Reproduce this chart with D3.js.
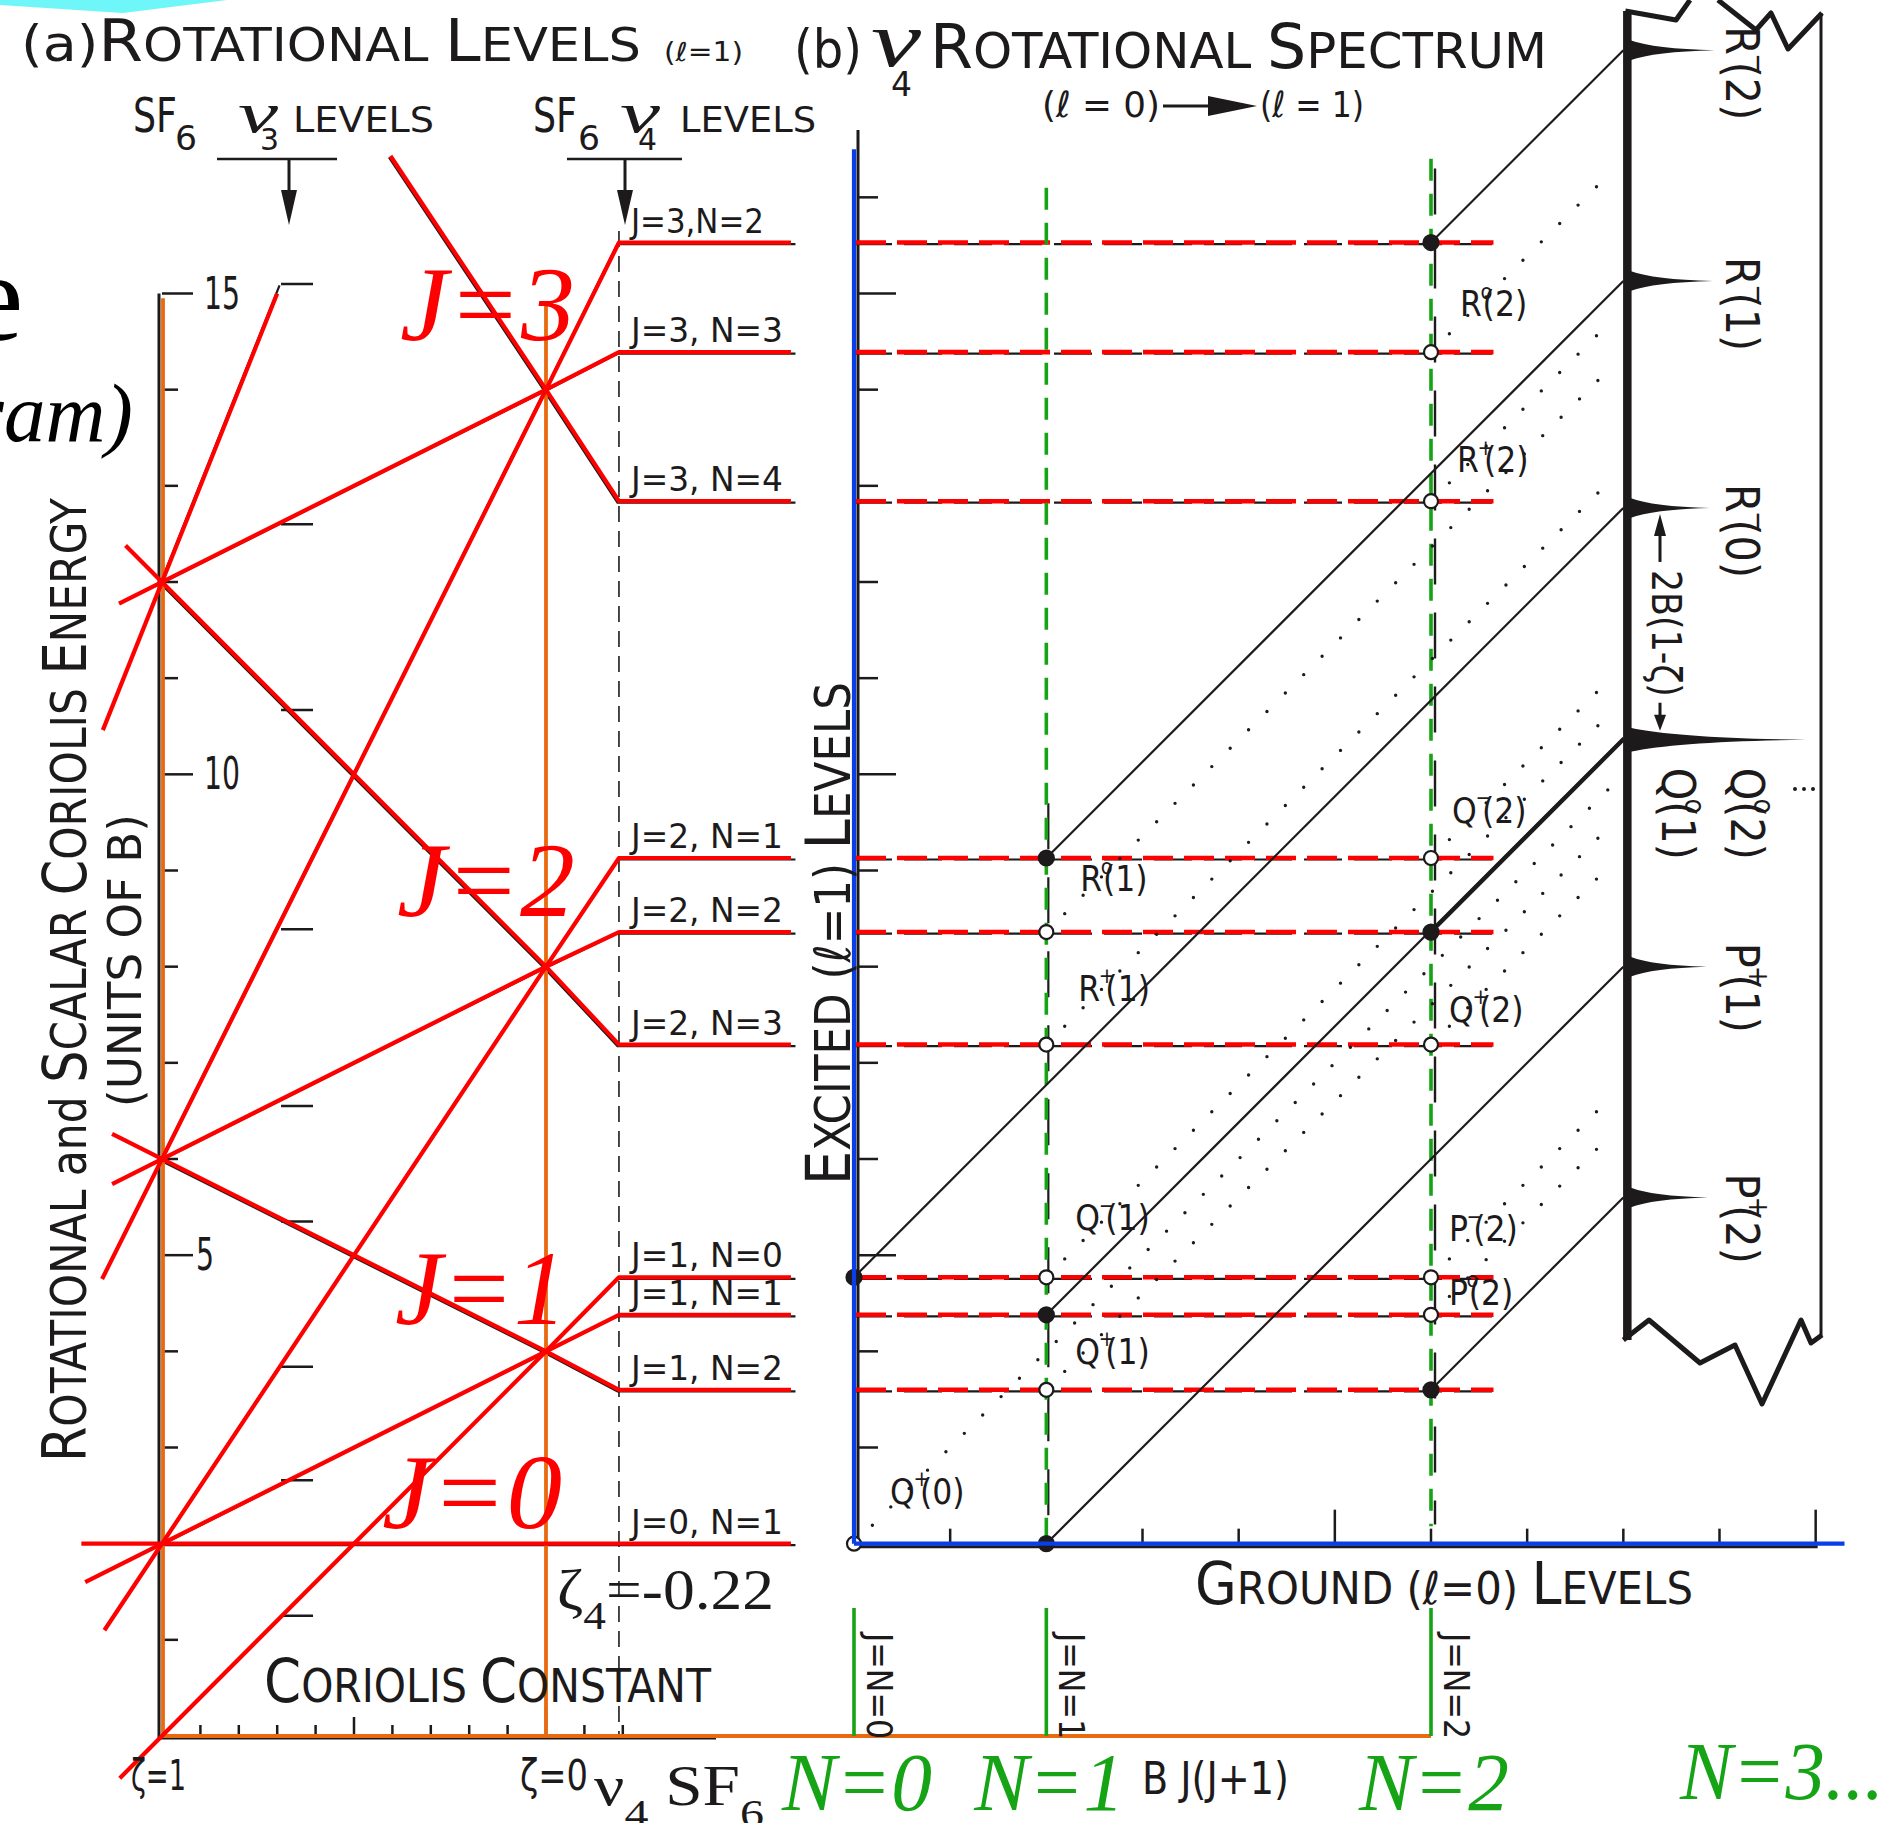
<!DOCTYPE html>
<html>
<head>
<meta charset="utf-8">
<title>SF6 v4 rotational levels and spectrum</title>
<script src="https://cdn.jsdelivr.net/npm/d3@7/dist/d3.min.js"></script>
<style>
  html, body { margin: 0; padding: 0; background: #fff; }
  svg { display: block; }
</style>
</head>
<body>
<div id="chart"></div>
<script>
// excited (l=1) levels, energies in units of B
const levelLabel = ["J=0, N=1", "J=1, N=0", "J=1, N=1", "J=1, N=2", "J=2, N=1",
                    "J=2, N=2", "J=2, N=3", "J=3,N=2", "J=3, N=3", "J=3, N=4"];
const levelE1 = [2, 0, 2, 6, 2, 6, 12, 6, 12, 20];      // at zeta = 1
const levelE0 = [2, 4, 4, 4, 8, 8, 8, 14, 14, 14];      // at zeta = 0
const levelE4 = [2, 4.77, 4.38, 3.6, 9.13, 8.36, 7.19, 15.53, 14.39, 12.84]; // at zeta4
const redFromZeta = [1.21, 1.11, 1.2, 1.13, 1.15, 1.13, 1.095, 1.156, 1.112, 0.405];

// J=4, N=3 only drawn up to the nu3 column
const partialE1 = 12, partialE0 = 22, partialFrom = 1.154;

const zeta3 = 0.69;
const zeta4 = -0.19;           // where the zeta4 line sits on the drawing
const zeta4Text = "=-0.22";
const nu3Levels = [1.25, 2.0, 2.66, 3.84, 5.35, 6.55, 8.39, 10.67, 12.6, 15.1];

const energyTicks = d3.range(1, 16);
const energyLabels = [5, 10, 15];
const zetaTicks = [0.9, 0.8, 0.7, 0.6, 0.5, 0.4, 0.3, 0.2, 0.1, 0, -0.1, -0.2];

// ground (l=0) levels B J(J+1)
const groundE = [0, 2, 6];
const groundLabel = ["J=N=0", "J=N=1", "J=N=2"];
const groundN = ["N=0", "N=1", "N=2"];
const groundTicks = d3.range(1, 11);
const excitedTicks = d3.range(3, 17);

// transitions: ground J -> excited level index
const trBranch = ["R", "R", "R", "Q", "Q", "P", "P", "Q", "R", "R", "Q", "Q", "R", "R", "Q", "Q", "P", "P"];
const trSign   = ["\u2212", "\u2212", "\u2212", "o", "o", "+", "+", "+", "o", "+", "\u2212", "+", "o", "+", "\u2212", "+", "\u2212", "o"];
const trGround = [0, 1, 2, 1, 2, 1, 2, 0, 1, 1, 1, 1, 2, 2, 2, 2, 2, 2];
const trLevel  = [1, 4, 7, 2, 5, 0, 3, 0, 5, 6, 1, 3, 8, 9, 4, 6, 1, 2];
const trKind   = [1, 1, 1, 1, 2, 1, 1, 0, 0, 0, 0, 0, 0, 0, 0, 0, 0, 0]; // 0 dotted, 1 solid, 2 heavy

// spectrum
const specAt = 8;
const peakTr = [2, 1, 0, 4, 5, 6];
const peakHeight = [0.95, 0.93, 0.9, 1.9, 0.87, 0.88];

// ---------------------------------------------------------------------------
const W = 1904, H = 1823;
const SANS = "'Liberation Sans Narrow', 'DejaVu Sans Condensed', 'Liberation Sans', Arial, sans-serif";
const SERIF = "'Liberation Serif', 'Times New Roman', serif";
const INK = "#1d1a1b", RED = "#ff0000", ORANGE = "#e8690e", GREEN = "#16a416", BLUE = "#0a3ee6";

const svg = d3.select("#chart").append("svg").attr("width", W).attr("height", H);
svg.append("rect").attr("width", W).attr("height", H).attr("fill", "#fff");

const unit = (1736 - 293.5) / 15;
const yE = d3.scaleLinear().domain([0, 15]).range([1736, 293.5]);
const xZ = d3.scaleLinear().domain([1, 0]).range([162, 546]);
const xG = d3.scaleLinear().domain([0, 10]).range([854, 854 + unit * 10]);

function txt(g, o) {
  const t = g.append("text")
    .attr("x", o.x).attr("y", o.y)
    .attr("font-family", o.family || SANS)
    .attr("font-size", o.size || 36)
    .attr("fill", o.fill || INK)
    .attr("text-anchor", o.anchor || "start");
  if (o.italic) t.attr("font-style", "italic");
  if (o.rotate) t.attr("transform", `rotate(${o.rotate},${o.x},${o.y})`);
  (o.parts || [[o.text]]).forEach(([s, size, dy, dx, fam, ital]) => {
    const sp = t.append("tspan").text(s);
    if (size) sp.attr("font-size", size);
    if (dy) sp.attr("dy", dy);
    if (dx) sp.attr("dx", dx);
    if (fam) sp.attr("font-family", fam);
    if (ital) sp.attr("font-style", "italic");
  });
  if (o.len) t.attr("textLength", o.len).attr("lengthAdjust", "spacingAndGlyphs");
  return t;
}

// small-caps lettering like the original
function caps(str, big, small) {
  const out = [];
  const words = str.split(" ");
  words.forEach((w, i) => {
    const sp = i < words.length - 1 ? "\u00a0" : "";
    if (/^[A-Z]/.test(w)) {
      if (w.length > 1) { out.push([w[0], big]); out.push([w.slice(1).toUpperCase() + sp, small]); }
      else out.push([w + sp, big]);
    } else out.push([w + sp, small]);
  });
  return out;
}

const line = d3.line();

// ============================ (a) rotational levels ============================
const left = svg.append("g");

left.append("path").attr("d", "M0,0 L227,0 L123,13 L0,5 Z").attr("fill", "#6ef6f8");

txt(left, { x: -33, y: 340, text: "e", size: 127, family: SERIF, fill: "#000" });
txt(left, { x: 133, y: 441, text: "ram)", size: 83, family: SERIF, italic: true, anchor: "end", fill: "#000" });

txt(left, { x: 21, y: 61, len: 620,
  parts: [["(a)", 50]].concat(caps("Rotational Levels", 58, 46)) });
txt(left, { x: 664, y: 61, text: "(\u2113=1)", size: 26, len: 79 });

// SF6 nu3 / nu4 headers
[[133, 175, 238, 260, 293, "3", 141, 217, 337, 289],
 [533, 578, 620, 638, 680, "4", 136, 567, 682, 625]].forEach(h => {
  txt(left, { x: h[0], y: 132, text: "SF", size: 48, len: 44 });
  txt(left, { x: h[1], y: 150, text: "6", size: 33, len: 22 });
  txt(left, { x: h[2], y: 132, text: "\u03bd", size: 58, family: SERIF, italic: true, len: 40 });
  txt(left, { x: h[3], y: 150, text: h[5], size: 30, len: 19 });
  txt(left, { x: h[4], y: 132, text: "LEVELS", size: 35, len: h[6] });
  left.append("line").attr("x1", h[7]).attr("x2", h[8]).attr("y1", 159).attr("y2", 159)
    .attr("stroke", INK).attr("stroke-width", 2.5);
  left.append("line").attr("x1", h[9]).attr("x2", h[9]).attr("y1", 159).attr("y2", 200)
    .attr("stroke", INK).attr("stroke-width", 3);
  left.append("path").attr("d", `M${h[9] - 8},190 L${h[9] + 8},190 L${h[9]},225 Z`).attr("fill", INK);
});

// axis (printed) and ticks
left.append("line").attr("x1", xZ(1) - 3).attr("x2", xZ(1) - 3).attr("y1", yE(15)).attr("y2", yE(0) + 2)
  .attr("stroke", INK).attr("stroke-width", 3);
left.append("line").attr("x1", xZ(1) - 4).attr("x2", 716).attr("y1", yE(0) + 2).attr("y2", yE(0) + 2)
  .attr("stroke", INK).attr("stroke-width", 3);
left.selectAll(".etick").data(energyTicks).join("line")
  .attr("x1", xZ(1)).attr("x2", d => xZ(1) + (energyLabels.includes(d) ? 31 : 16))
  .attr("y1", d => yE(d)).attr("y2", d => yE(d))
  .attr("stroke", INK).attr("stroke-width", 2.5);
energyLabels.forEach(d => {
  const s = String(d);
  txt(left, { x: xZ(1) + (s.length > 1 ? 42 : 34), y: yE(d) + 15, text: s, size: 44, len: s.length * 18 });
});
left.selectAll(".nu3").data(nu3Levels).join("line")
  .attr("x1", xZ(zeta3)).attr("x2", xZ(zeta3) + 32)
  .attr("y1", d => yE(d)).attr("y2", d => yE(d))
  .attr("stroke", INK).attr("stroke-width", 2.5);
left.selectAll(".ztick").data(zetaTicks).join("line")
  .attr("x1", d => xZ(d)).attr("x2", d => xZ(d))
  .attr("y1", yE(0)).attr("y2", d => yE(0) - (d === 0 ? 30 : Math.abs(d - 0.5) < 1e-9 ? 19 : 11))
  .attr("stroke", INK).attr("stroke-width", 2.5);

// printed black level lines
const lineE = (i, z) => levelE0[i] + (levelE1[i] - levelE0[i]) * z;
const STUB = 176;
function levelPts(i, from, stubEnd) {
  return [[xZ(from), yE(lineE(i, from))], [xZ(0), yE(levelE0[i])],
          [xZ(zeta4), yE(levelE4[i])], [xZ(zeta4) + stubEnd, yE(levelE4[i])]];
}
levelLabel.forEach((_, i) => {
  left.append("path").attr("d", line(levelPts(i, Math.min(1, redFromZeta[i]), STUB + 2)))
    .attr("transform", "translate(-1.5,1.5)")
    .attr("fill", "none").attr("stroke", INK).attr("stroke-width", 2.2);
});
left.append("path").attr("d", line([[xZ(1), yE(partialE1)],
    [xZ(zeta3), yE(partialE0 + (partialE1 - partialE0) * zeta3)]]))
  .attr("transform", "translate(-1.5,1.5)")
  .attr("fill", "none").attr("stroke", INK).attr("stroke-width", 2.2);

// zeta4 dashed line
left.append("line").attr("x1", xZ(zeta4)).attr("x2", xZ(zeta4))
  .attr("y1", yE(15.65)).attr("y2", yE(0))
  .attr("stroke", INK).attr("stroke-width", 1.6).attr("stroke-dasharray", "16 9");

// orange overlay axes
left.append("line").attr("x1", xZ(1) + 1).attr("x2", xZ(1) + 1).attr("y1", yE(14.95)).attr("y2", yE(0))
  .attr("stroke", ORANGE).attr("stroke-width", 3.8);
left.append("line").attr("x1", xZ(0)).attr("x2", xZ(0)).attr("y1", yE(14.9)).attr("y2", yE(0))
  .attr("stroke", ORANGE).attr("stroke-width", 3.8);
left.append("line").attr("x1", xZ(1)).attr("x2", xG(groundE[2])).attr("y1", yE(0)).attr("y2", yE(0))
  .attr("stroke", ORANGE).attr("stroke-width", 3.8);

// red overlay level lines
levelLabel.forEach((_, i) => {
  left.append("path").attr("d", line(levelPts(i, redFromZeta[i], STUB - 4)))
    .attr("fill", "none").attr("stroke", RED).attr("stroke-width", 4.2)
    .attr("stroke-linejoin", "round");
});
left.append("path").attr("d", line([[xZ(partialFrom), yE(partialE0 + (partialE1 - partialE0) * partialFrom)],
    [xZ(zeta3 + 0.01), yE(partialE0 + (partialE1 - partialE0) * (zeta3 + 0.01))]]))
  .attr("fill", "none").attr("stroke", RED).attr("stroke-width", 4.2);

// level names
levelLabel.forEach((s, i) => {
  txt(left, { x: xZ(zeta4) + 12, y: yE(levelE4[i]) - 10, text: s, size: 33, len: s.length * 19 });
});

// axis titles
txt(left, { x: 86, y: 1462, rotate: -90, len: 964,
  parts: caps("Rotational and Scalar Coriolis Energy", 60, 50) });
txt(left, { x: 141, y: 1107, rotate: -90, text: "(UNITS OF B)", size: 46, len: 293 });
txt(left, { x: 264, y: 1702, len: 447, parts: caps("Coriolis Constant", 61, 47) });
txt(left, { x: 131, y: 1790, text: "\u03b6=1", size: 42, len: 55 });
txt(left, { x: 520, y: 1790, text: "\u03b6=0", size: 42, len: 68 });
txt(left, { x: 557, y: 1609, family: SERIF, size: 56, len: 217,
  parts: [["\u03b6"], ["4", 40, 20], [zeta4Text, 56, -20]] });
txt(left, { x: 594, y: 1805, family: SERIF, size: 56, len: 170,
  parts: [["\u03bd"], ["4", 40, 22], ["\u00a0SF", 56, -22], ["6", 40, 22]] });

// big J labels
[["J=3", 400, 340, 175], ["J=2", 397, 916, 178], ["J=1", 395, 1324, 172], ["J=0", 382, 1528, 180]]
  .forEach(([s, x, y, len]) => txt(left, { x, y, text: s, size: 106, family: SERIF, italic: true, fill: RED, len }));

// ============================ (b) rotational spectrum ============================
const right = svg.append("g");
const x0 = xG(0), yAxis = yE(2);

txt(right, { x: 794, y: 68, text: "(b)", size: 54, len: 68 });
txt(right, { x: 871, y: 66, text: "\u03bd", size: 78, family: SERIF, italic: true, len: 50 });
txt(right, { x: 891, y: 96, text: "4", size: 34, len: 21 });
txt(right, { x: 930, y: 68, len: 617, parts: caps("Rotational Spectrum", 62, 50) });
txt(right, { x: 1042, y: 117, text: "(\u2113 = 0)", size: 36, len: 118 });
right.append("line").attr("x1", 1163).attr("x2", 1215).attr("y1", 106).attr("y2", 106)
  .attr("stroke", INK).attr("stroke-width", 3);
right.append("path").attr("d", "M1208,96 L1257,106 L1208,116 Z").attr("fill", INK);
txt(right, { x: 1260, y: 117, text: "(\u2113 = 1)", size: 36, len: 104 });

// printed axes and ticks
right.append("line").attr("x1", x0 + 4).attr("x2", x0 + 4).attr("y1", yE(16.7)).attr("y2", yAxis + 3)
  .attr("stroke", INK).attr("stroke-width", 3);
right.append("line").attr("x1", x0).attr("x2", xG(10) + 2).attr("y1", yAxis + 3).attr("y2", yAxis + 3)
  .attr("stroke", INK).attr("stroke-width", 3);
right.selectAll(".xtick").data(excitedTicks).join("line")
  .attr("x1", x0 + 4).attr("x2", d => x0 + 4 + (d % 5 === 0 ? 38 : 20))
  .attr("y1", d => yE(d)).attr("y2", d => yE(d))
  .attr("stroke", INK).attr("stroke-width", 2.5);
right.selectAll(".gtick").data(groundTicks).join("line")
  .attr("x1", d => xG(d)).attr("x2", d => xG(d))
  .attr("y1", yAxis).attr("y2", d => yAxis - (d % 5 === 0 ? 34 : 15))
  .attr("stroke", INK).attr("stroke-width", 2.5);

// level lines across the panel
const upper = levelE4.filter(e => e > 2);
right.selectAll(".lvlBlack").data(upper).join("line")
  .attr("x1", x0).attr("x2", xG(6.65)).attr("y1", d => yE(d) + 1.5).attr("y2", d => yE(d) + 1.5)
  .attr("stroke", INK).attr("stroke-width", 2.2).attr("stroke-dasharray", "38 12");
right.selectAll(".lvlRed").data(upper).join("line")
  .attr("x1", x0 + 2).attr("x2", xG(6.65)).attr("y1", d => yE(d)).attr("y2", d => yE(d))
  .attr("stroke", RED).attr("stroke-width", 4.6).attr("stroke-dasharray", "30 11");

// ground-level verticals
right.append("line").attr("x1", xG(2) + 2).attr("x2", xG(2) + 2).attr("y1", yE(9.7)).attr("y2", yAxis)
  .attr("stroke", INK).attr("stroke-width", 2.2).attr("stroke-dasharray", "46 28");
right.append("line").attr("x1", xG(6) + 4).attr("x2", xG(6) + 4).attr("y1", yE(16.3)).attr("y2", yE(2.2))
  .attr("stroke", INK).attr("stroke-width", 2.4).attr("stroke-dasharray", "46 28");
[[2, 16.1, 2.03], [6, 16.4, 2.18]].forEach(([g, top, bot]) => {
  right.append("line").attr("x1", xG(g)).attr("x2", xG(g)).attr("y1", yE(top)).attr("y2", yE(bot))
    .attr("stroke", GREEN).attr("stroke-width", 3.6).attr("stroke-dasharray", "22 13");
});

// transition lines
const trStart = k => [xG(groundE[trGround[k]]), yE(levelE4[trLevel[k]])];
const trEnd = (k, at) => [xG(at), yE(levelE4[trLevel[k]] + at - groundE[trGround[k]])];
trKind.forEach((kind, k) => {
  const l = right.append("path")
    .attr("d", line([trStart(k), trEnd(k, kind ? specAt : specAt - 0.1)]))
    .attr("fill", "none").attr("stroke", INK);
  if (kind === 0) l.attr("stroke-width", 3.4).attr("stroke-dasharray", "0 26").attr("stroke-linecap", "round");
  else l.attr("stroke-width", kind === 2 ? 3.8 : 2.2);
});

// level points
right.selectAll(".pt").data(trKind).join("circle")
  .attr("cx", (d, k) => trStart(k)[0]).attr("cy", (d, k) => trStart(k)[1])
  .attr("r", d => d ? 7.5 : 7)
  .attr("fill", d => d ? INK : "#fff").attr("stroke", INK).attr("stroke-width", 2.2);

// transition names (weak lines)
function trName(g, k, x, y, size, rotate) {
  return txt(g, { x, y, size, rotate, parts: [
    [trBranch[k]],
    [trSign[k], size * 0.62, -size * 0.5, -size * 0.04],
    [`(${trGround[k]})`, size, size * 0.5, -size * 0.28]
  ] });
}
const weakDx = [36, 34, 32, 29, 29, 29, 26, 21, 18, 18, 18];
const weakDy = [-40, -41, -44, -47, -26, -36, -29, -35, -23, -36, -10];
trKind.forEach((kind, k) => {
  if (kind) return;
  const j = k - 7, p = trStart(k);
  trName(right, k, p[0] + weakDx[j], p[1] + weakDy[j], 35);
});

// spectrum strip
const sx = xG(specAt);
right.append("line").attr("x1", sx + 4).attr("x2", sx + 4).attr("y1", 11).attr("y2", 1340)
  .attr("stroke", INK).attr("stroke-width", 8.5);
right.append("line").attr("x1", 1821).attr("x2", 1821).attr("y1", 13).attr("y2", 1336)
  .attr("stroke", INK).attr("stroke-width", 3);
[[[sx + 2, 11], [1676, 20], [1690, 0]],
 [[1718, 0], [1756, 30], [1771, 13], [1788, 49], [1822, 13]],
 [[sx, 1340], [1649, 1320], [1700, 1363], [1735, 1345], [1762, 1404], [1801, 1320], [1811, 1343], [1822, 1335]]]
  .forEach(pts => right.append("path").attr("d", line(pts)).attr("fill", "none")
    .attr("stroke", INK).attr("stroke-width", 5).attr("stroke-linejoin", "round"));

const peakY = k => trEnd(peakTr[k], specAt)[1];
peakTr.forEach((t, k) => {
  const y = peakY(k), bx = sx + 7, tip = xG(specAt + peakHeight[k]), h = k === 3 ? 12 : 10;
  const c = bx + (tip - bx) * 0.28;
  right.append("path")
    .attr("d", `M${bx},${y - h} Q${c},${y - 1.5} ${tip},${y} Q${c},${y + 1.5} ${bx},${y + h} Z`)
    .attr("fill", INK);
  if (k === 3) return;
  trName(right, t, 1726, y - 24, 46, 90);
});
// Q branch pile-up
trName(right, 4, 1731, peakY(3) + 28, 46, 90);
trName(right, 3, 1662, peakY(3) + 28, 46, 90);
right.append("line").attr("x1", 1795).attr("x2", 1820).attr("y1", 789).attr("y2", 789)
  .attr("stroke", INK).attr("stroke-width", 4).attr("stroke-dasharray", "0 9").attr("stroke-linecap", "round");

// 2B(1-zeta) spacing
const aTop = peakY(2) + 6, aBot = peakY(3) - 9, ax = 1660;
right.append("line").attr("x1", ax).attr("x2", ax).attr("y1", aTop + 18).attr("y2", aTop + 48)
  .attr("stroke", INK).attr("stroke-width", 3);
right.append("path").attr("d", `M${ax - 6},${aTop + 22} L${ax},${aTop} L${ax + 6},${aTop + 22} Z`).attr("fill", INK);
right.append("line").attr("x1", ax).attr("x2", ax).attr("y1", aBot - 28).attr("y2", aBot - 14)
  .attr("stroke", INK).attr("stroke-width", 3);
right.append("path").attr("d", `M${ax - 6},${aBot - 16} L${ax},${aBot} L${ax + 6},${aBot - 16} Z`).attr("fill", INK);
txt(right, { x: 1652, y: aTop + 56, rotate: 90, text: "2B(1-\u03b6)", size: 40, len: 127 });

// blue overlay axes
right.append("line").attr("x1", x0).attr("x2", x0).attr("y1", yE(16.5)).attr("y2", yAxis)
  .attr("stroke", BLUE).attr("stroke-width", 4.2);
right.append("line").attr("x1", x0).attr("x2", xG(10.3)).attr("y1", yAxis).attr("y2", yAxis)
  .attr("stroke", BLUE).attr("stroke-width", 4.2);

// axis titles
txt(right, { x: 850, y: 1185, rotate: -90, len: 503, parts: caps("Excited (\u2113=1) Levels", 62, 50) });
txt(right, { x: 1195, y: 1604, len: 498, parts: caps("Ground (\u2113=0) Levels", 58, 45) });

// ground level columns below the axis
groundE.forEach((g, i) => {
  right.append("line").attr("x1", xG(g)).attr("x2", xG(g)).attr("y1", 1608).attr("y2", yE(0))
    .attr("stroke", GREEN).attr("stroke-width", 3.6);
  txt(right, { x: xG(g) + 13, y: 1633, rotate: 90, text: groundLabel[i], size: 36, len: 106 });
  txt(right, { x: xG(g) + 3, y: 1810, text: groundN[i], size: 83, family: SERIF, italic: true,
    fill: GREEN, anchor: "middle", len: 150 });
});
txt(right, { x: 1680, y: 1799, text: "N=3...", size: 83, family: SERIF, italic: true, fill: GREEN, len: 204 });
txt(right, { x: 1142, y: 1794, text: "B J(J+1)", size: 44, len: 147 });
</script>
</body>
